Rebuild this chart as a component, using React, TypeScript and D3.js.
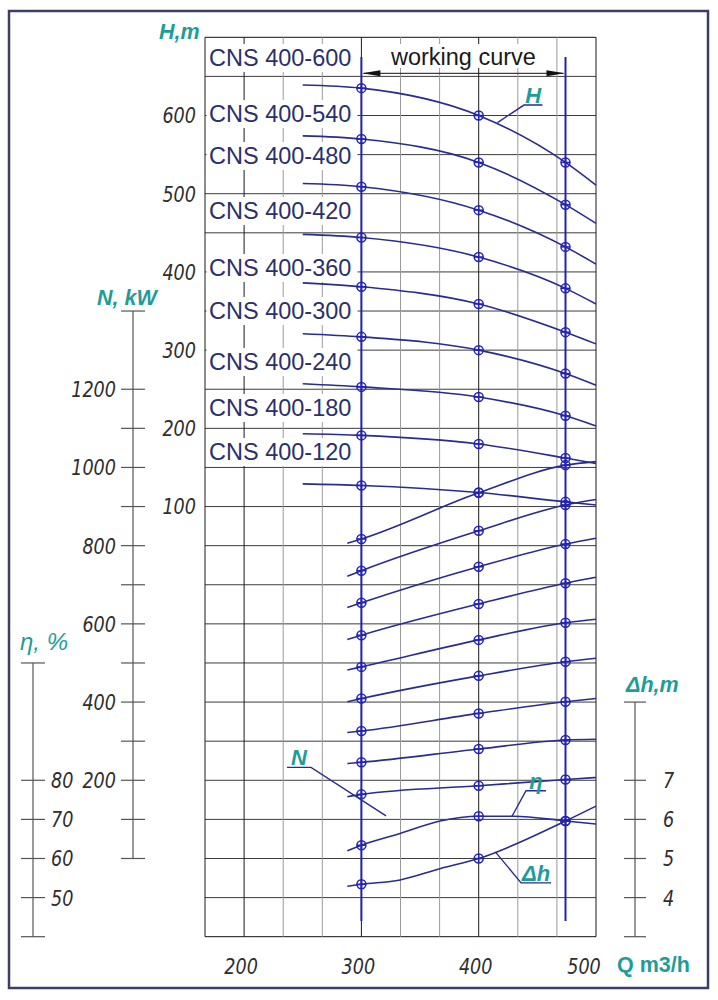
import React, { useEffect, useRef } from 'react'
import * as d3 from 'd3'

// pump series names (top to bottom)
const pumpNames = [
    'CNS 400-600',
    'CNS 400-540',
    'CNS 400-480',
    'CNS 400-420',
    'CNS 400-360',
    'CNS 400-300',
    'CNS 400-240',
    'CNS 400-180',
    'CNS 400-120',
]

// head curves H(Q), m
const headQ = [250, 300, 400, 474, 500]
const headValues = [
    [639, 635, 600, 540, 511],
    [574, 570, 540, 486, 462],
    [513, 509, 479, 432, 410],
    [448, 444, 419, 379, 359],
    [386, 381, 359, 323, 308],
    [321, 317, 300, 270, 255],
    [257, 253, 240, 216, 203],
    [193, 191, 180, 162, 155],
    [129, 127, 118, 106, 102],
]

// power curves N(Q), kW
const powerQ = [288, 300, 400, 474, 500]
const powerValues = [
    [806, 817, 935, 1006, 1015],
    [722, 736, 838, 904, 918],
    [642, 654, 746, 804, 819],
    [560, 571, 651, 704, 719],
    [482, 490, 559, 603, 612],
    [401, 409, 467, 503, 512],
    [322, 326, 371, 401, 409],
    [243, 246, 280, 303, 305],
    [158, 164, 186, 202, 207],
]

// efficiency, %
const etaQ = [288, 300, 333, 367, 400, 430, 474, 500]
const etaValues = [62, 63.4, 66.4, 69.6, 70.8, 70.8, 69.6, 68.8]

// NPSH required, m
const dhQ = [288, 300, 333, 367, 400, 474, 500]
const dhValues = [4.29, 4.34, 4.45, 4.74, 5.0, 5.96, 6.34]

// working range and marker points
const workQ = [300, 474]
const markerQ = [300, 400, 474]

// tick labels
const qTicks = [200, 300, 400, 500]
const hTicks = [100, 200, 300, 400, 500, 600]
const nTicks = [0, 100, 200, 300, 400, 500, 600, 700, 800, 900, 1000, 1100, 1200]
const nLabels = [200, 400, 600, 800, 1000, 1200]
const etaTicks = [50, 60, 70, 80]
const dhTicks = [4, 5, 6, 7]

// label placement for the series names (px, layout only)
const nameY = [58, 114, 156, 211, 268, 311, 362, 408, 452]

const BLUE = '#282b90'
const LINE_BLUE = '#2323b4'
const TEAL = '#1e9c98'
const NAVY = '#2b2f6b'
const SANS = '"Liberation Sans", Arial, sans-serif'

const App: React.FC = () => {
    const svgRef = useRef<SVGSVGElement | null>(null)

    useEffect(() => {
        document.body.style.margin = '0'
        if (!svgRef.current) return
        const width = 718
        const height = 1000
        const svg = d3.select(svgRef.current).attr('viewBox', `0 0 ${width} ${height}`)
        svg.selectAll('*').remove()

        const gx0 = 205
        const gx1 = 596
        const gy0 = 37.3
        const gy1 = 936.7
        const cols = 10
        const rows = 23
        const rowH = (gy1 - gy0) / rows

        const x = d3.scaleLinear().domain([500 - 1000 / 3, 500]).range([gx0, gx1])
        const yH = d3.scaleLinear().domain([0, 700]).range([gy0 + 14 * rowH, gy0])
        const yN = d3.scaleLinear().domain([0, 1400]).range([gy0 + 21 * rowH, gy0 + 7 * rowH])
        const yEta = d3.scaleLinear().domain([40, 110]).range([gy1, gy0 + 16 * rowH])
        const yDh = d3.scaleLinear().domain([3, 9]).range([gy1, gy0 + 17 * rowH])

        svg.append('rect').attr('width', width).attr('height', height).attr('fill', '#fff')

        // outer frame
        svg.append('rect')
            .attr('x', 9).attr('y', 11).attr('width', 699).attr('height', 977)
            .attr('fill', 'none').attr('stroke', '#3b3e6b').attr('stroke-width', 2.5)

        // drafting-style tick text (narrow italic)
        const tick = (tx: number, ty: number, anchor: string, label: string | number) => {
            svg.append('text')
                .attr('transform', `translate(${tx},${ty}) scale(0.8,1)`)
                .attr('dy', '0.36em').attr('text-anchor', anchor)
                .attr('font-family', '"DejaVu Sans", sans-serif').attr('font-style', 'italic')
                .attr('font-size', 22).attr('fill', '#2e2e2e').text(label)
        }
        const title = (tx: number, ty: number, label: string, italic = true) => {
            svg.append('text')
                .attr('x', tx).attr('y', ty).attr('font-family', SANS).attr('font-weight', 'bold')
                .attr('font-style', italic ? 'italic' : 'normal')
                .attr('font-size', 21.5).attr('fill', TEAL).text(label)
        }

        // grid
        const grid = svg.append('g')
        d3.range(rows + 1).forEach((i) => {
            const yy = gy0 + i * rowH
            grid.append('line')
                .attr('x1', gx0).attr('x2', gx1).attr('y1', yy).attr('y2', yy)
                .attr('stroke', i === 0 || i === rows ? '#111' : '#3c3c3c').attr('stroke-width', 1)
        })
        d3.range(cols + 1).forEach((i) => {
            const xx = gx0 + (i * (gx1 - gx0)) / cols
            const major = i === 0 || i === cols || i % 3 === 1
            grid.append('line')
                .attr('x1', xx).attr('x2', xx).attr('y1', gy0).attr('y2', gy1)
                .attr('stroke', major ? '#1a1a1a' : '#9a9a9a').attr('stroke-width', 1)
        })

        // series name labels with white boxes
        pumpNames.forEach((name, i) => {
            svg.append('rect')
                .attr('x', gx0 + 1.5).attr('y', nameY[i] - 14).attr('width', 151).attr('height', 28)
                .attr('fill', '#fff')
            svg.append('text')
                .attr('x', 209).attr('y', nameY[i]).attr('dy', '0.36em')
                .attr('font-family', SANS).attr('font-size', 23.5).attr('fill', NAVY)
                .text(name)
        })

        // working curve label + arrow
        svg.append('rect').attr('x', 384).attr('y', 44).attr('width', 160).attr('height', 24).attr('fill', '#fff')
        svg.append('text')
            .attr('x', (x(workQ[0]) + x(workQ[1])) / 2).attr('y', 58).attr('dy', '0.3em')
            .attr('text-anchor', 'middle').attr('font-family', SANS).attr('font-size', 23.5)
            .attr('fill', '#1a1a1a').text('working curve')
        const ay = 73.3
        svg.append('line')
            .attr('x1', x(workQ[0]) + 2).attr('x2', x(workQ[1]) - 2).attr('y1', ay).attr('y2', ay)
            .attr('stroke', '#111').attr('stroke-width', 1)
        const ax0 = x(workQ[0]) + 1
        const ax1 = x(workQ[1]) - 1
        svg.append('path')
            .attr('d', `M${ax0},${ay} L${ax0 + 18},${ay - 3} L${ax0 + 18},${ay + 3} Z`).attr('fill', '#111')
        svg.append('path')
            .attr('d', `M${ax1},${ay} L${ax1 - 18},${ay - 3} L${ax1 - 18},${ay + 3} Z`).attr('fill', '#111')

        // vertical working-range lines
        workQ.forEach((q) => {
            svg.append('line')
                .attr('x1', x(q)).attr('x2', x(q)).attr('y1', 57).attr('y2', 921)
                .attr('stroke', LINE_BLUE).attr('stroke-width', 2)
        })

        const lineGen = d3.line<[number, number]>().curve(d3.curveMonotoneX)
        const curves = svg.append('g').attr('fill', 'none').attr('stroke', BLUE).attr('stroke-width', 1.6)
        const markers: [number, number][] = []

        const addCurve = (qs: number[], vals: number[], ys: d3.ScaleLinear<number, number>) => {
            const pts = qs.map((q, i) => [x(q), ys(vals[i])] as [number, number])
            curves.append('path').attr('d', lineGen(pts))
            markerQ.forEach((mq) => {
                const k = qs.indexOf(mq)
                if (k >= 0) markers.push([x(mq), ys(vals[k])])
            })
        }

        headValues.forEach((v) => addCurve(headQ, v, yH))
        powerValues.forEach((v) => addCurve(powerQ, v, yN))
        addCurve(etaQ, etaValues, yEta)
        addCurve(dhQ, dhValues, yDh)

        const mk = svg.append('g').attr('stroke', LINE_BLUE).attr('stroke-width', 1.5).attr('fill', 'none')
        markers.forEach(([mx, my]) => {
            mk.append('circle').attr('cx', mx).attr('cy', my).attr('r', 4.5)
            mk.append('line').attr('x1', mx - 4.5).attr('x2', mx + 4.5).attr('y1', my).attr('y2', my)
            mk.append('line').attr('x1', mx).attr('x2', mx).attr('y1', my - 4.5).attr('y2', my + 4.5)
        })

        // Q axis labels
        qTicks.forEach((q) => tick(q === 500 ? x(q) - 12 : x(q) - 3, 966, 'middle', q))
        title(617, 972, 'Q m3/h', false)

        // H axis labels
        hTicks.forEach((h) => tick(196, yH(h), 'end', h))
        title(159, 39, 'H,m')

        const axisG = svg.append('g').attr('stroke', '#555').attr('stroke-width', 1.2)

        // N axis
        const nx = 133
        axisG.append('line').attr('x1', nx).attr('x2', nx).attr('y1', yN(1400)).attr('y2', yN(0))
        ;[...nTicks, 1400].forEach((n) => {
            axisG.append('line').attr('x1', nx - 12).attr('x2', nx + 12).attr('y1', yN(n)).attr('y2', yN(n))
        })
        nLabels.forEach((n) => tick(116, yN(n), 'end', n))
        title(97, 305, 'N, kW')

        // eta axis
        const ex = 33
        axisG.append('line').attr('x1', ex).attr('x2', ex).attr('y1', yEta(110)).attr('y2', yEta(40))
        ;[...etaTicks, 110, 40].forEach((e) => {
            axisG.append('line').attr('x1', ex - 12).attr('x2', ex + 12).attr('y1', yEta(e)).attr('y2', yEta(e))
        })
        etaTicks.forEach((e) => tick(51, yEta(e), 'start', e))
        svg.append('text')
            .attr('x', 20).attr('y', 650).attr('font-family', SANS)
            .attr('font-style', 'italic').attr('font-size', 24).attr('fill', TEAL).text('η, %')

        // delta h axis
        const dx = 635
        axisG.append('line').attr('x1', dx).attr('x2', dx).attr('y1', yDh(9)).attr('y2', yDh(3))
        ;[...dhTicks, 9, 3].forEach((d) => {
            axisG.append('line').attr('x1', dx - 11).attr('x2', dx + 11).attr('y1', yDh(d)).attr('y2', yDh(d))
        })
        dhTicks.forEach((d) => tick(663, yDh(d), 'start', d))
        title(626, 692, 'Δh,m')

        // curve callouts: anchor on curve, elbow, underline end
        const callouts = [
            { text: 'H', ax: x(416), ay: yH(591), ex: 26.5, ey: -17.5, ul: 18.5 },
            { text: 'N', ax: x(321), ay: yN(109), ex: -75, ey: -48.5, ul: -24 },
            { text: 'η', ax: x(428.4), ay: yEta(70.8), ex: 14, ey: -25.5, ul: 20 },
            { text: 'Δh', ax: x(414.2), ay: yDh(5.17), ex: 25.7, ey: 31, ul: 30 },
        ]
        callouts.forEach((c) => {
            const elx = c.ax + c.ex
            const ely = c.ay + c.ey
            svg.append('path')
                .attr('d', `M${c.ax},${c.ay} L${elx},${ely} L${elx + c.ul},${ely}`)
                .attr('fill', 'none').attr('stroke', BLUE).attr('stroke-width', 1.4)
            const tx = Math.min(elx, elx + c.ul) + Math.abs(c.ul) / 2
            svg.append('text')
                .attr('x', tx).attr('y', ely - 2).attr('text-anchor', 'middle')
                .attr('font-family', SANS).attr('font-style', 'italic').attr('font-weight', 'bold')
                .attr('font-size', 22).attr('fill', TEAL).text(c.text)
        })
    }, [])

    return <svg ref={svgRef} width={718} height={1000} style={{ display: 'block' }}></svg>
}

export default App
